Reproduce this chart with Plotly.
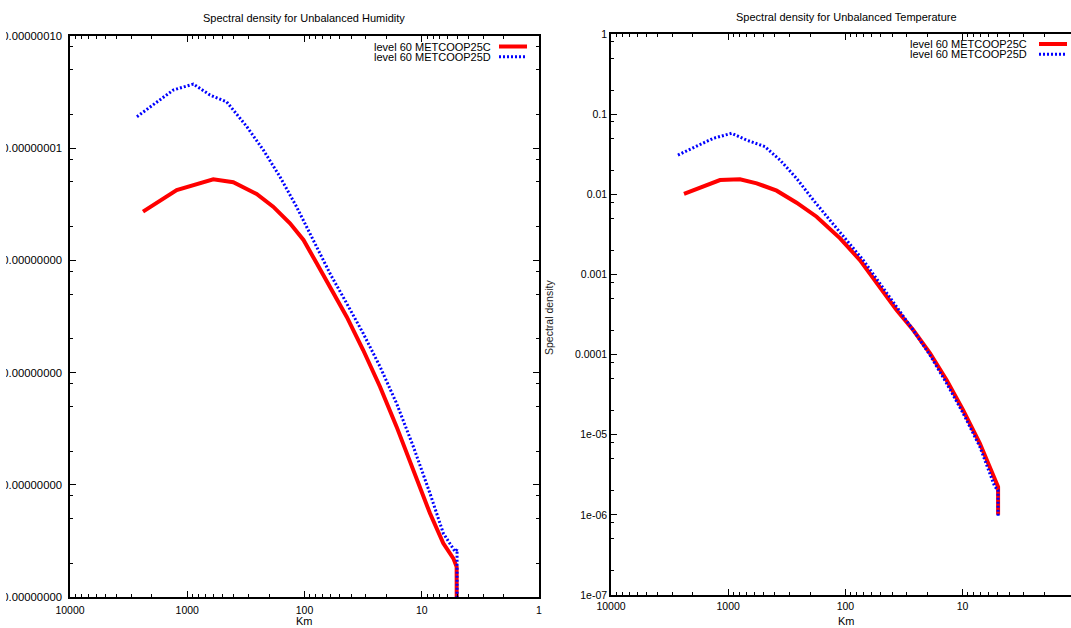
import plotly.graph_objects as go

# ---------------- data ----------------
# Left panel: Unbalanced Humidity, level 60
hum_c_km = [2384, 1230, 600, 405, 256, 185, 133, 102, 78.7, 60.7, 43.7, 31.6,
            22.7, 16.4, 11.8, 8.51, 6.55, 5.38, 5.04, 5.0]
hum_c_val = [2.72e-9, 4.24e-9, 5.28e-9, 4.97e-9, 3.91e-9, 3.01e-9, 2.14e-9, 1.52e-9,
             9.42e-10, 5.83e-10, 3.15e-10, 1.59e-10, 7.48e-11, 3.30e-11, 1.355e-11,
             5.57e-12, 3.01e-12, 2.21e-12, 1.86e-12, 1e-14]
hum_d_km = [2685, 1315, 887, 640, 461, 311, 224, 162, 117, 84.1, 60.7, 43.7, 31.6,
            22.7, 16.4, 11.8, 8.51, 6.55, 5.2, 5.0, 5.0]
hum_d_val = [1.91e-8, 3.30e-8, 3.73e-8, 2.98e-8, 2.59e-8, 1.56e-8, 9.6e-9, 5.57e-9,
             3.01e-9, 1.52e-9, 7.67e-10, 4.15e-10, 2.24e-10, 1.13e-10, 5.32e-11,
             2.19e-11, 8.39e-12, 3.70e-12, 2.54e-12, 2.65e-12, 1e-14]

# Right panel: Unbalanced Temperature, level 60
temp_c_km = [2384, 1175, 794, 571, 386, 261, 176, 111, 75.2, 50.8, 36.6, 26.4, 19.0,
             13.7, 9.89, 7.13, 4.98, 4.98]
temp_c_val = [0.0101, 0.01507, 0.01538, 0.01371, 0.01109, 0.00785, 0.00525, 0.00282,
              0.00151, 7.03e-4, 3.60e-4, 2.02e-4, 1.04e-4, 4.82e-5, 2.03e-5, 7.82e-6,
              2.24e-6, 1.0e-6]
temp_d_km = [2685, 1343, 935, 697, 486, 362, 261, 188, 136, 97.7, 70.5, 50.8, 36.6,
             26.4, 19.0, 13.7, 9.89, 7.13, 5.31, 4.98, 4.98]
temp_d_val = [0.0309, 0.0499, 0.0577, 0.0475, 0.0393, 0.0268, 0.0158, 0.00849, 0.00478,
              0.00269, 0.00151, 7.74e-4, 3.95e-4, 2.02e-4, 9.86e-5, 4.38e-5, 1.85e-5,
              7.08e-6, 2.24e-6, 2.04e-6, 9.5e-7]

series_names = ["level 60 METCOOP25C", "level 60 METCOOP25D"]
titles = ["Spectral density for Unbalanced Humidity",
          "Spectral density for Unbalanced Temperature"]
x_label = "Km"
y_label = "Spectral density"

x_tickvals = [10000, 1000, 100, 10, 1]
x_ticktext = ["10000", "1000", "100", "10", "1"]
hum_y_tickvals = [1e-7, 1e-8, 1e-9, 1e-10, 1e-11, 1e-12]
hum_y_ticktext = ["0.00000010", "0.00000001", "0.00000000", "0.00000000",
                  "0.00000000", "0.00000000"]
temp_y_tickvals = [1, 0.1, 0.01, 0.001, 0.0001, 1e-5, 1e-6, 1e-7]
temp_y_ticktext = ["1", "0.1", "0.01", "0.001", "0.0001", "1e-05", "1e-06", "1e-07"]

# ---------------- styling ----------------
W, H = 1071, 628
FONT = "Liberation Sans, Arial, Helvetica, sans-serif"
RED = "#ff0000"
BLUE = "#0000ff"
DOT = "2px,2px"

x_minor = [m * 10 ** d for d in range(0, 4) for m in range(2, 10)]
hum_y_minor = [m * 10.0 ** d for d in range(-12, -7) for m in (2, 5, 8)]
temp_y_minor = [m * 10.0 ** d for d in range(-7, 0) for m in (2, 5, 8)]


def fx(p):
    return p / W


def fy(p):
    return 1 - p / H


fig = go.Figure()
fig.add_trace(go.Scatter(x=hum_c_km, y=hum_c_val, mode="lines", name=series_names[0],
                         line=dict(color=RED, width=4), xaxis="x", yaxis="y"))
fig.add_trace(go.Scatter(x=hum_d_km, y=hum_d_val, mode="lines", name=series_names[1],
                         line=dict(color=BLUE, width=3, dash=DOT), xaxis="x", yaxis="y"))
fig.add_trace(go.Scatter(x=temp_c_km, y=temp_c_val, mode="lines", name=series_names[0],
                         line=dict(color=RED, width=4), xaxis="x2", yaxis="y2"))
fig.add_trace(go.Scatter(x=temp_d_km, y=temp_d_val, mode="lines", name=series_names[1],
                         line=dict(color=BLUE, width=3, dash=DOT), xaxis="x2", yaxis="y2"))

tickfont = dict(family=FONT, size=10.5, color="black")
common = dict(type="log", showgrid=False, zeroline=False, showline=True, linecolor="black",
              linewidth=1.5, ticks="inside", ticklen=6, tickwidth=1, tickcolor="black",
              tickfont=tickfont, automargin=False, tickmode="array")


def minor(vals):
    return dict(tickmode="array", tickvals=vals, ticks="inside", ticklen=3,
                tickwidth=1, tickcolor="black", showgrid=False)


fig.update_layout(
    width=W, height=H, template="none",
    paper_bgcolor="white", plot_bgcolor="white",
    margin=dict(l=0, r=0, t=0, b=0),
    showlegend=False,
    font=dict(family=FONT, size=11, color="black"),
    xaxis=dict(common, range=[4, 0], domain=[fx(70), fx(539)], anchor="y",
               tickvals=x_tickvals, ticktext=x_ticktext, mirror="ticks",
               ticklabelstandoff=3, minor=minor(x_minor)),
    yaxis=dict(common, range=[-12, -7], domain=[fy(597), fy(36)], anchor="x",
               tickvals=hum_y_tickvals, ticktext=hum_y_ticktext, mirror="ticks",
               tickfont=dict(family=FONT, size=11.3, color="black"),
               ticklabelstandoff=4, minor=minor(hum_y_minor)),
    xaxis2=dict(common, range=[4, 0.0751], domain=[fx(611), 1.0], anchor="y2",
                tickvals=x_tickvals, ticktext=x_ticktext, mirror="ticks",
                ticklabelstandoff=1, minor=minor(x_minor)),
    yaxis2=dict(common, range=[-7, 0], domain=[fy(595), fy(34)], anchor="x2",
                tickvals=temp_y_tickvals, ticktext=temp_y_ticktext, mirror=False,
                minor=minor(temp_y_minor)),
)

annotations = [
    dict(text=titles[0], x=fx(304), y=fy(18)),
    dict(text=titles[1], x=fx(846), y=fy(17)),
    dict(text=x_label, x=fx(304), y=fy(621)),
    dict(text=x_label, x=fx(846), y=fy(621)),
    dict(text=y_label, x=fx(549), y=fy(318), textangle=-90,
         font=dict(family=FONT, size=10.5, color="#222222")),
]
# legends (text on the left of the sample, gnuplot style)
legend_pos = [  # (text right edge, sample start, sample end, y first row)
    (493, 499, 527, 46.5),
    (1029, 1039, 1067, 44.0),
]
shapes = []
for (tx, s0, s1, ly) in legend_pos:
    for i, nm in enumerate(series_names):
        yy = ly + 10.3 * i
        annotations.append(dict(text=nm, x=fx(tx), y=fy(yy), xanchor="right"))
        shapes.append(dict(type="line", xref="paper", yref="paper", x0=fx(s0), x1=fx(s1),
                           y0=fy(yy), y1=fy(yy),
                           line=dict(color=RED if i == 0 else BLUE,
                                     width=4 if i == 0 else 3,
                                     dash="solid" if i == 0 else DOT)))

# the reference picture is cropped at its left edge, cutting the first digit of the labels
shapes.append(dict(type="rect", xref="paper", yref="paper", x0=0, x1=fx(6), y0=0, y1=1,
                   fillcolor="white", line=dict(width=0), layer="above"))

for a in annotations:
    a.setdefault("xref", "paper")
    a.setdefault("yref", "paper")
    a.setdefault("showarrow", False)
    a.setdefault("xanchor", "center")
    a.setdefault("yanchor", "middle")
    a.setdefault("font", dict(family=FONT, size=11, color="black"))

fig.update_layout(annotations=annotations, shapes=shapes)

fig.write_html("out.html", config={"displayModeBar": False},
               post_script="document.body.style.margin='0';")
